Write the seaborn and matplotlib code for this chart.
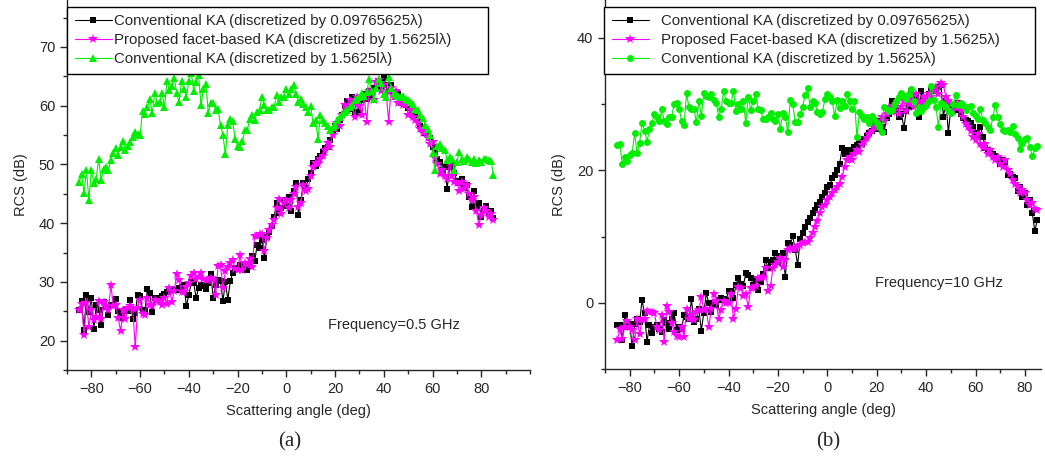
import matplotlib
matplotlib.use("Agg")
import matplotlib.pyplot as plt
from matplotlib.ticker import MultipleLocator
import pandas as pd
import seaborn as sns

angles = list(range(-85, 86))

# (a) 0.5 GHz
ka_fine_a = [
    25.3, 26.7, 21.8, 27.8, 24.8, 27.3, 22.0, 26.0, 25.3, 22.6,
    26.5, 25.7, 24.4, 26.0, 26.1, 27.1, 25.0, 24.7, 23.9, 25.3,
    25.0, 27.0, 23.7, 24.7, 27.8, 27.6, 25.3, 25.2, 28.8, 28.1,
    24.8, 27.3, 27.0, 27.3, 27.6, 27.9, 28.2, 28.7, 28.8, 28.7,
    28.6, 29.0, 29.2, 29.4, 25.9, 27.8, 29.9, 29.8, 27.3, 29.0,
    29.5, 29.3, 28.8, 29.8, 31.3, 27.3, 29.5, 30.4, 30.1, 26.7,
    30.0, 27.0, 30.1, 31.6, 32.4, 32.2, 32.8, 32.2, 32.0, 32.1,
    33.0, 34.4, 33.5, 36.2, 35.8, 37.2, 34.1, 37.7,
    38.5, 39.5, 41.0, 43.5, 41.8, 42.5, 44.0,
    43.0, 44.5, 42.0, 45.5, 46.8, 41.4, 44.0, 46.8, 46.0, 47.5,
    48.5, 50.2, 49.8, 51.0, 51.5, 52.2, 52.8, 53.0, 54.2, 55.5,
    56.5, 56.0, 57.5, 58.5, 60.0, 60.8, 59.5, 61.5, 59.0, 60.8,
    58.7, 61.0, 62.0, 61.2, 62.5, 61.5, 63.0, 62.8, 64.0, 63.2,
    64.8, 63.5, 62.5, 63.5, 62.2, 61.5, 62.0, 60.5, 61.0, 60.1,
    59.6, 59.8, 58.5, 58.0, 57.5, 56.5, 56.2, 55.3, 55.0, 54.5,
    53.0, 52.2, 51.0, 50.5, 49.0, 49.5, 45.9, 49.5, 50.0, 48.5,
    47.2, 46.8, 47.5, 46.0, 46.5, 44.5, 42.8, 45.5, 43.0, 43.5,
    41.0, 42.2, 43.0, 41.5, 42.0, 40.8,
]
facet_a = [
    25.2, 26.3, 20.9, 26.4, 22.3, 25.2, 23.5, 24.1, 26.7, 23.6,
    26.5, 25.9, 25.3, 29.5, 25.9, 26.1, 23.9, 21.6, 25.3, 23.6,
    25.6, 25.9, 25.4, 18.9, 25.6, 27.0, 24.6, 24.3, 27.3, 26.1,
    25.9, 27.0, 26.7, 26.5, 26.1, 27.3, 26.3, 29.0, 26.6, 28.4,
    31.3, 30.4, 28.2, 28.2, 29.1, 29.8, 31.0, 31.5, 30.5, 30.9,
    31.5, 30.5, 30.4, 30.4, 30.7, 30.4, 27.8, 32.7, 32.8, 28.9,
    31.8, 32.6, 33.2, 33.7, 32.2, 32.0, 34.5, 32.1, 33.2, 32.8,
    33.9, 32.6, 37.8, 37.9, 38.1, 38.2, 35.2,
    37.5, 38.8, 39.7, 40.5, 42.5, 44.2, 41.5, 43.5,
    43.9, 42.5, 44.0, 45.0, 46.2, 42.8, 43.5, 46.5, 45.5, 45.9,
    48.0, 49.5, 50.2, 50.0, 50.9, 51.5, 52.5, 53.6, 53.0, 55.0,
    56.1, 57.0, 56.5, 58.5, 60.1, 59.5, 61.0, 60.2, 58.0, 61.5,
    60.0, 58.5, 61.5, 57.3, 62.5, 62.2, 61.0, 64.0, 64.4, 62.5,
    63.5, 62.0, 57.3, 63.0, 61.5, 62.5, 60.5, 61.2, 60.1, 60.5,
    58.5, 59.2, 58.0, 57.5, 57.0, 56.0, 55.3, 55.8, 54.5, 53.5,
    53.8, 51.1, 50.0, 48.3, 49.0, 48.0, 47.5, 50.5, 48.0, 47.0,
    46.8, 45.5, 47.0, 45.8, 46.5, 45.0, 44.0, 44.5, 42.0, 39.7,
    41.4, 42.5, 42.0, 41.0, 41.5, 40.6,
]
ka_coarse_a = [
    47.0, 48.3, 45.2, 49.0, 43.9, 49.1, 46.8, 47.6, 51.0, 47.3,
    49.3, 49.5, 49.0, 50.7, 52.0, 52.8, 51.6, 53.0, 54.0, 52.4,
    53.1, 53.8, 54.7, 55.5, 55.2, 55.0, 59.1, 58.6, 59.8, 61.1,
    58.7, 62.2, 60.4, 60.6, 62.2, 59.7, 64.2, 62.6, 63.3, 64.8,
    62.2, 60.6, 64.2, 62.9, 61.5, 64.2, 65.6, 62.5, 64.0, 65.2,
    60.1, 62.9, 63.7, 58.7, 60.5, 60.5, 59.2, 59.4, 56.7, 55.0,
    51.7, 56.7, 57.8, 57.4, 54.4, 53.1, 52.9, 54.0, 55.8, 55.8,
    57.8, 58.4, 57.5, 58.9, 59.3, 61.5, 60.1, 59.2, 59.3, 59.7,
    59.7, 61.8, 60.6, 61.4, 61.5, 62.9, 62.0, 62.9, 63.5, 62.0,
    60.6, 61.2, 60.3, 59.7, 58.9, 59.9, 57.0, 57.5, 54.4, 58.4,
    57.5, 57.0, 56.5, 55.8, 56.3, 56.8, 57.5, 58.1, 58.6, 58.9,
    59.2, 59.7, 60.2, 60.9, 61.2, 61.5, 62.1, 61.6, 62.3, 64.6,
    62.5, 61.2, 63.0, 64.6, 63.8, 62.0, 61.5, 64.9, 63.0, 62.2,
    61.8, 61.6, 61.5, 61.7, 61.2, 61.0, 60.6, 60.3, 59.5, 59.3,
    58.5, 57.9, 56.7, 56.0, 55.0, 52.0, 49.0, 53.1, 53.4, 52.8,
    52.5, 50.8, 51.3, 51.0, 49.0, 50.5, 52.2, 51.0, 50.6, 51.2,
    50.9, 50.5, 50.9, 50.2, 50.8, 50.5, 50.9, 51.0, 50.8, 50.6, 48.2,
]

# (b) 10 GHz
ka_fine_b = [
    -3.3, -3.3, -5.6, -1.9, -3.6, -3.2, -6.5, -3.2, -2.5, -2.9,
    0.4, -1.6, -5.9, -3.4, -4.5, -3.6, -3.4, -4.0, -4.4, -2.6,
    -3.1, -4.0, -2.4, -1.6, -4.1, -3.6, -3.9, -1.9, -2.2, -2.5,
    0.5, -2.9, -2.4, -0.9, -4.2, -1.5, 1.4, 0.0, -1.4, -0.2,
    -0.4, 0.4, 0.7, 0.5, 0.4, 1.7, 1.7, 0.7, 2.7, 3.7,
    2.9, 2.5, 4.5, 4.2, 3.7, 2.7, 3.4, 1.9, 3.2, 4.4,
    6.5, 5.2, 6.2, 6.5, 7.5, 6.2, 7.0, 7.5, 3.9, 9.0,
    8.7, 10.1, 8.0, 5.7, 9.6, 10.5,
    11.5, 12.2, 12.8, 13.5, 14.0, 14.8, 15.2, 16.0, 16.5,
    17.5, 17.8, 18.8, 19.3, 20.0, 21.0, 23.3, 22.5, 23.0, 22.8,
    23.0, 23.5, 23.8, 24.2, 24.0, 24.7, 25.1, 25.6, 26.0, 26.9,
    26.2, 27.4, 26.5, 25.8, 27.9, 28.5, 30.4, 29.6, 29.0, 28.1,
    28.5, 26.4, 29.0, 29.6, 31.9, 30.6, 31.0, 28.0, 31.9, 30.5,
    30.1, 31.5, 32.1, 32.4, 31.9, 32.5, 32.9, 28.0, 30.5, 25.6,
    29.5, 29.0, 29.1, 30.1, 28.5, 27.9, 27.6, 27.5, 27.1, 26.5,
    25.6, 25.3, 26.6, 25.0, 23.3, 23.0, 22.8, 22.5, 22.1, 21.8,
    21.0, 21.5, 21.3, 19.3, 19.5, 19.0, 18.8, 16.8, 17.5, 16.0,
    16.6, 14.8, 15.5, 13.5, 10.8, 12.5,
]
facet_b = [
    -5.6, -4.0, -5.5, -3.6, -2.7, -3.6, -4.1, -5.6, -2.5, -4.7,
    -2.6, -2.5, -1.2, -1.4, -1.4, -1.5, -3.7, -4.1, -1.9, -5.9,
    -0.5, -1.4, -3.1, -4.4, -5.0, -5.1, -3.7, -5.1, -0.9, -2.4,
    -1.9, -2.6, -1.4, -1.1, 0.9, -1.1, -1.0, -3.7, -1.0, 1.3,
    0.2, -2.5, -1.1, 0.3, 0.0, 0.0, 1.3, -2.4, -0.9, 2.4,
    2.3, 1.0, 1.3, -0.7, 2.3, 2.3, 2.5, 3.7, 3.7, 3.9,
    5.3, 1.7, 2.5, 5.3, 5.7, 6.2, 6.7, 5.4, 6.4, 8.0,
    8.2, 8.1, 8.1, 8.6, 8.7, 9.0, 9.2, 9.1,
    9.8, 10.5, 11.5, 12.3, 13.5, 14.5, 14.8,
    15.5, 16.0, 16.5, 17.0, 17.5, 18.0, 19.0, 20.5, 21.5, 22.0,
    21.5, 22.5, 23.0, 22.8, 23.8, 24.3, 24.8, 25.5, 26.0, 26.5,
    27.5, 27.0, 28.0, 27.5, 28.5, 29.5, 28.8, 29.0, 30.0, 28.5,
    29.5, 30.5, 29.0, 30.0, 31.0, 29.5, 31.5, 30.5, 30.0, 31.0,
    30.5, 31.5, 31.0, 32.0, 32.5, 31.5, 33.2, 32.8, 31.0, 30.5,
    30.0, 29.0, 29.5, 30.1, 29.0, 28.0, 27.0, 26.5, 26.0, 25.0,
    24.5, 25.5, 24.0, 23.3, 24.0, 22.5, 23.0, 22.0, 21.5, 22.0,
    21.0, 20.5, 21.5, 20.0, 19.5, 18.5, 18.0, 17.5, 16.5, 17.0,
    16.6, 15.5, 14.8, 15.0, 14.1, 14.0,
]
ka_coarse_b = [
    23.8, 23.9, 21.0, 22.0, 21.4, 22.3, 22.6, 25.6, 22.6, 24.1,
    27.2, 26.0, 24.3, 26.2, 27.2, 28.5, 28.0, 27.5, 29.2, 27.5,
    27.0, 28.1, 28.1, 30.0, 30.2, 29.3, 27.5, 26.8, 31.6, 29.5,
    29.3, 29.2, 27.3, 30.4, 28.2, 31.7, 31.2, 31.0, 31.5, 30.6,
    30.2, 28.1, 29.2, 32.0, 30.5, 30.1, 30.1, 32.0, 29.0, 30.0,
    29.3, 30.4, 27.1, 31.1, 29.1, 30.5, 31.5, 29.3, 29.1, 27.7,
    27.8, 28.0, 28.6, 27.7, 27.5, 28.5, 26.3, 28.6, 28.1, 25.7,
    30.6, 30.0, 27.3, 27.3, 28.5, 29.6, 31.4, 32.4, 29.6, 30.4,
    30.1, 28.8, 28.5, 28.8, 30.7, 31.5, 31.1, 30.4, 28.2, 30.6,
    29.4, 30.4, 29.7, 31.5, 30.4, 29.2, 30.5, 25.0, 28.8, 28.2,
    27.8, 28.0, 27.1, 28.2, 27.8, 27.2, 26.5, 25.8, 29.6, 29.2,
    29.0, 29.1, 29.8, 30.4, 31.0, 31.7, 31.2, 30.7, 31.5, 32.2,
    30.4, 28.7, 29.6, 28.9, 29.5, 29.9, 30.4, 32.7, 30.6, 29.5,
    26.6, 30.1, 30.0, 29.5, 29.1, 28.7, 30.0, 31.4, 29.9, 30.1,
    29.8, 29.1, 29.5, 29.7, 28.7, 28.2, 27.8, 29.2, 27.6, 27.1,
    26.5, 26.1, 28.0, 29.9, 28.1, 27.0, 26.1, 25.9, 26.1, 25.8,
    26.7, 25.5, 24.8, 23.2, 24.1, 24.7, 24.8, 23.5, 22.1, 23.3, 23.7,
]

labels_a = ["Conventional KA (discretized by 0.09765625\u03bb)",
            "Proposed facet-based KA (discretized by 1.5625l\u03bb)",
            "Conventional KA (discretized by 1.5625l\u03bb)"]
labels_b = ["Conventional KA (discretized by 0.09765625\u03bb)",
            "Proposed Facet-based KA (discretized by 1.5625\u03bb)",
            "Conventional KA (discretized by 1.5625\u03bb)"]

sns.set_style("ticks")
plt.rcParams['font.family'] = ['Liberation Sans', 'DejaVu Sans']
plt.rcParams['axes.linewidth'] = 1.0

W, H = 1045, 462
fig = plt.figure(figsize=(W / 100, H / 100), dpi=100)
ax_a = fig.add_axes([67 / W, 1 - 370 / H, 463 / W, 370 / H])
ax_b = fig.add_axes([605 / W, 1 - 369 / H, 436 / W, 369 / H])


def draw(ax, fine, facet, coarse, labels, coarse_marker, coarse_ms):
    df = pd.DataFrame({"angle": angles, "fine": fine, "facet": facet, "coarse": coarse})
    sns.lineplot(data=df, x="angle", y="fine", ax=ax, color="black", lw=0.8,
                 marker="s", ms=4, mec="black", mew=0, label=labels[0])
    sns.lineplot(data=df, x="angle", y="facet", ax=ax, color="#ff00ff", lw=0.8,
                 marker="*", ms=7, mec="#ff00ff", mew=0, label=labels[1])
    sns.lineplot(data=df, x="angle", y="coarse", ax=ax, color="#00ee00", lw=0.8,
                 marker=coarse_marker, ms=coarse_ms, mec="#00ee00", mew=0, label=labels[2])
    sns.despine(ax=ax)
    ax.xaxis.set_major_locator(MultipleLocator(20))
    ax.xaxis.set_minor_locator(MultipleLocator(10))
    ax.tick_params(which="major", length=5, width=1, labelsize=10.5, direction="out")
    ax.tick_params(which="minor", length=3, width=1, direction="out")
    ax.set_xlabel("Scattering angle (deg)", fontsize=10.5, labelpad=6)
    ax.set_ylabel("RCS (dB)", fontsize=10.5, labelpad=8)


draw(ax_a, ka_fine_a, facet_a, ka_coarse_a, labels_a, "^", 6)
ax_a.set_xlim(-90, 100)
ax_a.set_ylim(15, 78)
ax_a.yaxis.set_major_locator(MultipleLocator(10))
ax_a.yaxis.set_minor_locator(MultipleLocator(5))
ax_a.set_xticks([-80, -60, -40, -20, 0, 20, 40, 60, 80])
ax_a.text(17, 22.6, "Frequency=0.5 GHz", fontsize=10.5, va="center")

draw(ax_b, ka_fine_b, facet_b, ka_coarse_b, labels_b, "o", 5)
ax_b.set_xlim(-90, 86.5)
ax_b.set_ylim(-10, 45.7)
ax_b.yaxis.set_major_locator(MultipleLocator(20))
ax_b.yaxis.set_minor_locator(MultipleLocator(10))
ax_b.set_xticks([-80, -60, -40, -20, 0, 20, 40, 60, 80])
ax_b.text(19.5, 3.0, "Frequency=10 GHz", fontsize=10.5, va="center")

for ax, x0, x1, gap in [(ax_a, 67, 488, 0.1), (ax_b, 604, 1035, 0.8)]:
    ax.legend(loc="upper left", mode="expand",
              bbox_to_anchor=(x0 / W, 0.5, (x1 - x0) / W, 1 - 7 / H - 0.5),
              bbox_transform=fig.transFigure, fontsize=10.8, frameon=True,
              fancybox=False, framealpha=1, edgecolor="black",
              borderpad=0.5, labelspacing=0.32, handlelength=2.5,
              handletextpad=gap, borderaxespad=0)
    ax.get_legend().get_frame().set_linewidth(1.0)

fig.text(290 / W, 1 - 442 / H, "(a)", family="Liberation Serif", fontsize=15,
         ha="center", va="center")
fig.text(828 / W, 1 - 442 / H, "(b)", family="Liberation Serif", fontsize=15,
         ha="center", va="center")

fig.savefig("out.png", dpi=100)
